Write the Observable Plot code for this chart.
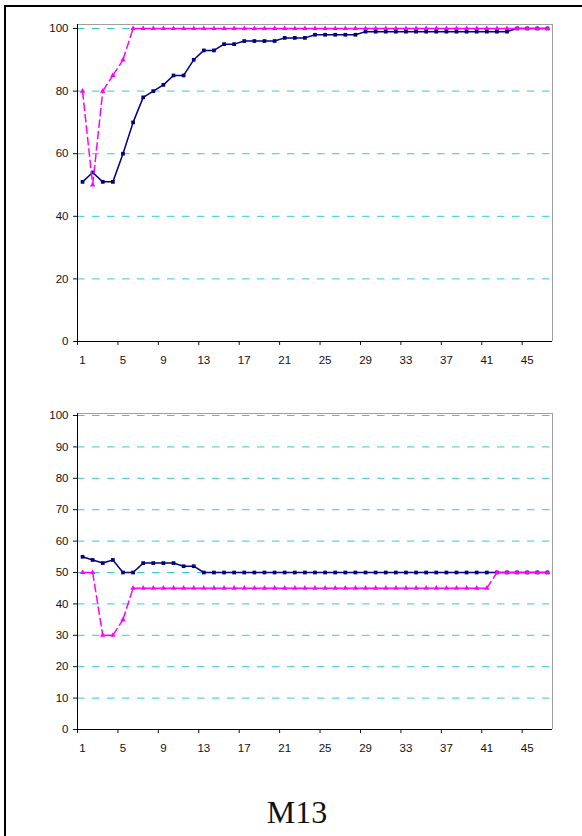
<!DOCTYPE html>
<html>
<head>
<meta charset="utf-8">
<script src="https://cdn.jsdelivr.net/npm/d3@7"></script>
<script src="https://cdn.jsdelivr.net/npm/@observablehq/plot@0.6"></script>
<style>
  html, body { margin: 0; padding: 0; background: #fff; }
  #page { position: relative; width: 582px; height: 836px; overflow: hidden; background: #fff; }
  #frame { position: absolute; left: 4px; top: 5px; width: 700px; height: 900px;
           border-top: 2px solid #000; border-left: 2px solid #000; }
  .panel { position: absolute; left: 0; }
  #title { position: absolute; left: 0; top: 0; }
</style>
</head>
<body>
<div id="page">
  <div id="frame"></div>
  <div id="upper" class="panel" style="top:0"></div>
  <div id="lower" class="panel" style="top:390px"></div>
  <svg id="title" width="582" height="836">
    <text x="297" y="823" text-anchor="middle" font-family="'Liberation Serif', 'DejaVu Serif', serif" font-size="32" fill="#111">M13</text>
  </svg>
</div>
<script>
// Iteration steps along the category axis
const steps = [1, 2, 3, 4, 5, 6, 7, 8, 9, 10, 11, 12, 13, 14, 15, 16, 17, 18, 19, 20,
  21, 22, 23, 24, 25, 26, 27, 28, 29, 30, 31, 32, 33, 34, 35, 36, 37, 38, 39, 40,
  41, 42, 43, 44, 45, 46, 47];

// Upper panel series
const upperNavy = [51, 54, 51, 51, 60, 70, 78, 80, 82, 85, 85, 90, 93, 93, 95, 95, 96, 96, 96, 96,
  97, 97, 97, 98, 98, 98, 98, 98, 99, 99, 99, 99, 99, 99, 99, 99, 99, 99, 99, 99,
  99, 99, 99, 100, 100, 100, 100];
const upperPink = [80, 50, 80, 85, 90, 100, 100, 100, 100, 100, 100, 100, 100, 100, 100, 100, 100, 100, 100, 100,
  100, 100, 100, 100, 100, 100, 100, 100, 100, 100, 100, 100, 100, 100, 100, 100, 100, 100, 100, 100,
  100, 100, 100, 100, 100, 100, 100];

// Lower panel series
const lowerNavy = [55, 54, 53, 54, 50, 50, 53, 53, 53, 53, 52, 52, 50, 50, 50, 50, 50, 50, 50, 50,
  50, 50, 50, 50, 50, 50, 50, 50, 50, 50, 50, 50, 50, 50, 50, 50, 50, 50, 50, 50,
  50, 50, 50, 50, 50, 50, 50];
const lowerPink = [50, 50, 30, 30, 35, 45, 45, 45, 45, 45, 45, 45, 45, 45, 45, 45, 45, 45, 45, 45,
  45, 45, 45, 45, 45, 45, 45, 45, 45, 45, 45, 45, 45, 45, 45, 45, 45, 45, 45, 45,
  45, 50, 50, 50, 50, 50, 50];

// Tick labels
const xTickLabels = [1, 5, 9, 13, 17, 21, 25, 29, 33, 37, 41, 45];
const upperYTicks = [0, 20, 40, 60, 80, 100];
const lowerYTicks = [0, 10, 20, 30, 40, 50, 60, 70, 80, 90, 100];

const NAVY = "#000080";
const PINK = "#ff00ff";
const GRID = "#33cccc";

// tick marks sit on category boundaries, one before every labelled step
const xBoundaries = xTickLabels.map(v => v - 0.5);

function panel({height, marginTop, marginBottom, yMax, yTicks, navy, pink}) {
  const navyRows = steps.map((s, i) => ({step: s, value: navy[i]}));
  const pinkRows = steps.map((s, i) => ({step: s, value: pink[i]}));
  // each dashed segment restarts its own dash pattern, point to point
  const pinkSegs = pinkRows.slice(1).map((d, i) => ({
    x1: pinkRows[i].step, y1: pinkRows[i].value, x2: d.step, y2: d.value
  }));
  return Plot.plot({
    width: 582,
    height,
    marginLeft: 77,
    marginRight: 30,
    marginTop,
    marginBottom,
    x: {domain: [0.5, 47.5]},
    y: {domain: [0, yMax]},
    style: {
      fontFamily: "'Liberation Sans', Arial, sans-serif",
      fontSize: "11.5px",
      color: "#111",
      background: "transparent",
      overflow: "visible"
    },
    marks: [
      Plot.ruleY(yTicks.filter(v => v > 0), {stroke: GRID, strokeWidth: 1, strokeDasharray: "7.5,7.5"}),
      Plot.ruleY([yMax], {stroke: "#a0a0a0"}),
      Plot.ruleX([47.5], {stroke: "#a0a0a0"}),
      Plot.axisY({ticks: yTicks, tickSize: 4, tickPadding: 5, label: null}),
      Plot.axisX({ticks: xBoundaries, tickSize: 4, tickFormat: () => "", label: null}),
      Plot.axisX({ticks: xTickLabels, tickSize: 0, tickPadding: 14, label: null}),
      Plot.ruleX([0.5], {stroke: "#000"}),
      Plot.ruleY([0], {stroke: "#000"}),
      Plot.line(navyRows, {x: "step", y: "value", stroke: NAVY, strokeWidth: 1.5}),
      Plot.dot(navyRows, {x: "step", y: "value", symbol: "square", r: 2.1, fill: NAVY, stroke: null}),
      Plot.link(pinkSegs, {x1: "x1", y1: "y1", x2: "x2", y2: "y2", stroke: PINK, strokeWidth: 1.5, strokeDasharray: "8.5,3"}),
      Plot.dot(pinkRows, {x: "step", y: "value", symbol: "triangle", r: 2, fill: PINK, stroke: null})
    ]
  });
}

document.getElementById("upper").append(panel({
  height: 380, marginTop: 24, marginBottom: 39, yMax: 101.28,
  yTicks: upperYTicks, navy: upperNavy, pink: upperPink
}));
document.getElementById("lower").append(panel({
  height: 380, marginTop: 23, marginBottom: 41, yMax: 100.64,
  yTicks: lowerYTicks, navy: lowerNavy, pink: lowerPink
}));
</script>
</body>
</html>
